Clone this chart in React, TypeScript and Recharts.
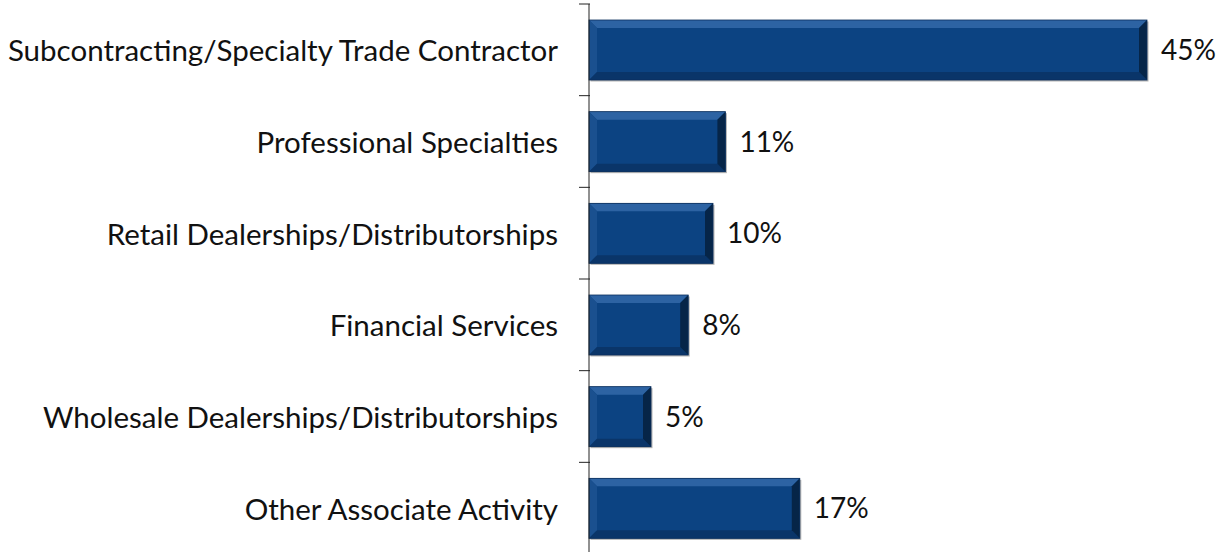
import React from "react";
import { BarChart, Bar, XAxis, YAxis, LabelList } from "recharts";

const categories = [
  "Subcontracting/Specialty Trade Contractor",
  "Professional Specialties",
  "Retail Dealerships/Distributorships",
  "Financial Services",
  "Wholesale Dealerships/Distributorships",
  "Other Associate Activity",
];
const shares = [45, 11, 10, 8, 5, 17];

const data = categories.map((name, i) => ({ name, value: shares[i] }));

const FONT = "Lato, 'Open Sans', sans-serif";
const FS = 29.5;
const BAND = 550 / categories.length;

function BevelBar(props: any) {
  const { x, y, width, height } = props;
  const b = Math.min(8, width / 2);
  const r = x + width;
  const btm = y + height;
  return (
    <g>
      <rect x={x + 1.5} y={y + 1.5} width={width} height={height} fill="rgba(0,0,0,0.3)" />
      <rect x={x} y={y} width={width} height={height} fill="#0c4382" />
      <polygon points={`${x},${y} ${r},${y} ${r - b},${y + b} ${x + b},${y + b}`} fill="#2d63a3" />
      <polygon points={`${x},${y} ${x + b},${y + b} ${x + b},${btm - b} ${x},${btm}`} fill="#1a508f" />
      <polygon points={`${x},${btm} ${x + b},${btm - b} ${r - b},${btm - b} ${r},${btm}`} fill="#0a3569" />
      <polygon points={`${r},${y} ${r},${btm} ${r - b},${btm - b} ${r - b},${y + b}`} fill="#062548" />
      <rect x={x} y={y} width={width} height={height} fill="none" stroke="#0a2f5c" strokeWidth={0.8} />
    </g>
  );
}

function CatTick(props: any) {
  const { x, y, payload } = props;
  return (
    <g>
      <line x1={x - 2} x2={x + 9} y1={y - BAND / 2} y2={y - BAND / 2} stroke="#222" strokeWidth={1} />
      <text
        x={x - 23}
        y={y}
        textAnchor="end"
        dominantBaseline="central"
        fontFamily={FONT}
        fontSize={FS}
        fill="#111"
      >
        {payload.value}
      </text>
    </g>
  );
}

export default function App() {
  return (
    <div style={{ position: "absolute", left: 0, top: 0, width: 1218, height: 552, overflow: "hidden", background: "#fff" }}>
      <BarChart
        width={1218}
        height={556}
        data={data}
        layout="vertical"
        margin={{ top: 4, right: 9, bottom: 2, left: 0 }}
      >
        <XAxis type="number" domain={[0, 50]} hide />
        <YAxis
          type="category"
          dataKey="name"
          width={589}
          axisLine={{ stroke: "#222", strokeWidth: 1 }}
          tickLine={false}
          tick={<CatTick />}
          interval={0}
        />
        <Bar dataKey="value" barSize={60} shape={<BevelBar />} isAnimationActive={false}>
          <LabelList
            dataKey="value"
            position="right"
            offset={14}
            formatter={(v: any) => `${v}%`}
            style={{ fontFamily: FONT, fontSize: 28, fill: "#111" }}
          />
        </Bar>
      </BarChart>
    </div>
  );
}
